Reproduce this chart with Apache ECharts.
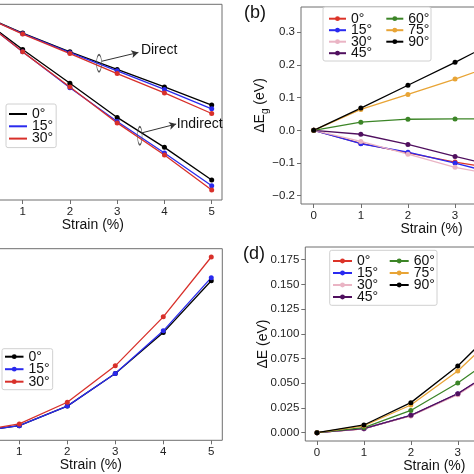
<!DOCTYPE html>
<html><head><meta charset="utf-8">
<script src="https://cdn.jsdelivr.net/npm/echarts@6/dist/echarts.min.js"></script>
<style>html,body{margin:0;padding:0;background:#fff}#c{width:474px;height:474px}</style>
</head><body><div id="c"></div>
<script>
// ---------- data ----------
const strain = [0, 1, 2, 3, 4, 5];
const xTicks = [0, 1, 2, 3, 4, 5];

// (a) band gaps (direct / indirect) for 0°, 15°, 30°
const anglesA = ['0°', '15°', '30°'];
const directA0  = [1.757, 1.653, 1.557, 1.467, 1.378, 1.285];
const directA15 = [1.757, 1.650, 1.553, 1.460, 1.365, 1.266];
const directA30 = [1.757, 1.648, 1.548, 1.446, 1.347, 1.242];
const indirectA0  = [1.749, 1.569, 1.397, 1.222, 1.069, 0.902];
const indirectA15 = [1.749, 1.557, 1.374, 1.201, 1.040, 0.873];
const indirectA30 = [1.749, 1.557, 1.377, 1.194, 1.030, 0.851];

// (b) ΔEg for 0..90°
const anglesB = ['0°', '15°', '30°', '45°', '60°', '75°', '90°'];
const dEgB0  = [0, -0.040, -0.069, -0.097, -0.121, -0.145];
const dEgB15 = [0, -0.041, -0.067, -0.100, -0.138, -0.170];
const dEgB30 = [0, -0.034, -0.073, -0.113, -0.140, -0.170];
const dEgB45 = [0, -0.012, -0.043, -0.080, -0.114, -0.150];
const dEgB60 = [0, 0.025, 0.034, 0.035, 0.035, 0.033];
const dEgB75 = [0, 0.064, 0.110, 0.157, 0.208, 0.260];
const dEgB90 = [0, 0.068, 0.138, 0.208, 0.282, 0.355];
const yTicksB = [-0.2, -0.1, 0.0, 0.1, 0.2, 0.3];

// (c)
const anglesC = ['0°', '15°', '30°'];
const valC0  = [0, 0.018, 0.074, 0.167, 0.284, 0.432];
const valC15 = [0, 0.018, 0.074, 0.167, 0.289, 0.441];
const valC30 = [0, 0.023, 0.085, 0.189, 0.329, 0.500];

// (d) ΔE for 0..90°
const anglesD = ['0°', '15°', '30°', '45°', '60°', '75°', '90°'];
const dED0  = [0, 0.0040, 0.0172, 0.0390, 0.0695, 0.105];
const dED15 = [0, 0.0041, 0.0174, 0.0392, 0.0698, 0.105];
const dED30 = [0, 0.0040, 0.0170, 0.0385, 0.0690, 0.104];
const dED45 = [0, 0.0042, 0.0176, 0.0395, 0.0700, 0.106];
const dED60 = [0, 0.0052, 0.0225, 0.0503, 0.0836, 0.128];
const dED75 = [0, 0.0070, 0.0280, 0.0624, 0.1070, 0.165];
const dED90 = [0, 0.0078, 0.0304, 0.0675, 0.1140, 0.175];
const yTicksD = [0, 0.025, 0.05, 0.075, 0.1, 0.125, 0.15, 0.175];

// annotation anchors in data coordinates of panel (a)
const annoDirect = { ellipse: [2.616, 1.499], from: [2.674, 1.509], to: [3.449, 1.554], text: 'Direct' };
const annoIndirect = { ellipse: [3.479, 1.128], from: [3.521, 1.143], to: [4.248, 1.188], text: 'Indirect' };

// ---------- styles ----------
const FONT = 'Liberation Sans, Arial, Helvetica, sans-serif';
const FRAME = '#6e6e6e';
const colA = ['#000000', '#2a2aee', '#d8302a'];
const colB = ['#dc3328', '#2a2af0', '#eab4c4', '#50105f', '#3c8527', '#e8a435', '#000000'];

const chart = echarts.init(document.getElementById('c'), null, { renderer: 'canvas' });

function pairs(arr) { return strain.map((s, i) => [s, arr[i]]); }
function line(name, idx, arr, color, extra) {
  return Object.assign({
    type: 'line', name: name, xAxisIndex: idx, yAxisIndex: idx,
    data: pairs(arr), symbol: 'circle', symbolSize: 5, showSymbol: true,
    itemStyle: { color: color }, lineStyle: { color: color, width: 1.3 },
    emphasis: { disabled: true }, animation: false
  }, extra || {});
}
function xAx(idx, min, max) {
  return {
    type: 'value', gridIndex: idx, min: min, max: max, position: 'bottom',
    name: 'Strain (%)', nameLocation: 'middle', nameGap: 18, nameMoveOverlap: false,
    nameTextStyle: { fontSize: 14, color: '#111', fontFamily: FONT },
    axisLine: { show: false, onZero: false }, splitLine: { show: false },
    axisTick: { show: true, length: 4, lineStyle: { color: FRAME }, customValues: xTicks },
    axisLabel: { fontSize: 11.5, color: '#222', fontFamily: FONT, margin: 6, customValues: xTicks,
      formatter: v => String(v) }
  };
}
const sub = { fontSize: 10, fontFamily: FONT, color: '#111', padding: [9, 0, 0, 0] };
const main = { fontSize: 14, fontFamily: FONT, color: '#111' };

const legendBase = {
  selectedMode: false, orient: 'vertical', z: 6,
  formatter: n => n.split(':')[1],
  textStyle: { fontSize: 14, color: '#111', fontFamily: FONT }
};
const boxed = { borderColor: '#d0d0d0', borderWidth: 1, borderRadius: 2, backgroundColor: '#fff' };

const option = {
  backgroundColor: '#fff',
  animation: false,
  title: [
    { text: '(b)', left: 244, top: 4, padding: 0, textStyle: { fontSize: 18, fontWeight: 'normal', color: '#111', fontFamily: FONT } },
    { text: '(d)', left: 243, top: 245, padding: 0, textStyle: { fontSize: 18, fontWeight: 'normal', color: '#111', fontFamily: FONT } }
  ],
  graphic: [
    { type: 'rect', z: 5, shape: { x: 323, y: 7, width: 108, height: 54, r: 2 }, style: { fill: '#fff', stroke: '#d0d0d0', lineWidth: 1 } },
    { type: 'rect', z: 5, shape: { x: 329.7, y: 250.3, width: 107.3, height: 55, r: 2 }, style: { fill: '#fff', stroke: '#d0d0d0', lineWidth: 1 } }
  ],
  grid: [
    { left: -36.4, top: 4.3, width: 258.4, height: 195.7, show: true, borderColor: FRAME, borderWidth: 1, backgroundColor: '#fff', outerBoundsMode: 'none' },
    { left: 301, top: 7, width: 261, height: 197, show: true, borderColor: FRAME, borderWidth: 1, backgroundColor: '#fff', outerBoundsMode: 'none' },
    { left: -40.7, top: 248.7, width: 263, height: 191.6, show: true, borderColor: FRAME, borderWidth: 1, backgroundColor: '#fff', outerBoundsMode: 'none' },
    { left: 305.3, top: 247, width: 258, height: 194, show: true, borderColor: FRAME, borderWidth: 1, backgroundColor: '#fff', outerBoundsMode: 'none' }
  ],
  xAxis: [xAx(0, -0.25, 5.218), xAx(1, -0.27, 5.27), xAx(2, -0.25, 5.23), xAx(3, -0.25, 5.25)],
  yAxis: [
    { type: 'value', gridIndex: 0, min: 0.8, max: 1.8, position: 'left', axisLine: { show: false, onZero: false }, axisTick: { show: false }, axisLabel: { show: false }, splitLine: { show: false } },
    { type: 'value', gridIndex: 1, min: -0.2254, max: 0.3774, position: 'left',
      name: '{m|ΔE}{s|g}{m| (eV)}', nameLocation: 'middle', nameGap: 31, nameRotate: 90, nameMoveOverlap: false,
      nameTextStyle: { rich: { m: main, s: sub } },
      axisLine: { show: false, onZero: false }, splitLine: { show: false },
      axisTick: { show: true, length: 4, lineStyle: { color: FRAME }, customValues: yTicksB },
      axisLabel: { fontSize: 11.5, color: '#222', fontFamily: FONT, margin: 6, customValues: yTicksB,
        formatter: v => (v < -1e-9 ? '\u2212' : '') + Math.abs(v).toFixed(1) } },
    { type: 'value', gridIndex: 2, min: -0.0237, max: 0.5237, position: 'left', axisLine: { show: false, onZero: false }, axisTick: { show: false }, axisLabel: { show: false }, splitLine: { show: false } },
    { type: 'value', gridIndex: 3, min: -0.0084, max: 0.1878, position: 'left',
      name: 'ΔE (eV)', nameLocation: 'middle', nameGap: 35, nameRotate: 90, nameMoveOverlap: false,
      nameTextStyle: main,
      axisLine: { show: false, onZero: false }, splitLine: { show: false },
      axisTick: { show: true, length: 4, lineStyle: { color: FRAME }, customValues: yTicksD },
      axisLabel: { fontSize: 11.5, color: '#222', fontFamily: FONT, margin: 6, customValues: yTicksD,
        formatter: v => v.toFixed(3) } }
  ],
  legend: [
    Object.assign({}, legendBase, boxed, {
      data: anglesA.map(a => 'a:' + a), left: 6, top: 104, padding: [3, 3, 2, 3], itemGap: -1.7,
      icon: 'rect', itemWidth: 18, itemHeight: 2
    }),
    Object.assign({}, legendBase, {
      data: anglesB.slice(0, 4).map(a => 'b:' + a), left: 328, top: 11.7, padding: 0, itemGap: -2.5,
      itemWidth: 17, itemHeight: 6
    }),
    Object.assign({}, legendBase, {
      data: anglesB.slice(4).map(a => 'b:' + a), left: 385.3, top: 11.7, padding: 0, itemGap: -2.5,
      itemWidth: 17, itemHeight: 6
    }),
    Object.assign({}, legendBase, boxed, {
      data: anglesC.map(a => 'c:' + a), left: 2, top: 348.7, padding: [1, 3, 1, 2], itemGap: -1.5,
      itemWidth: 18.5, itemHeight: 6
    }),
    Object.assign({}, legendBase, {
      data: anglesD.slice(0, 4).map(a => 'd:' + a), left: 332, top: 254, padding: 0, itemGap: -2,
      itemWidth: 19, itemHeight: 6
    }),
    Object.assign({}, legendBase, {
      data: anglesD.slice(4).map(a => 'd:' + a), left: 388.7, top: 254, padding: 0, itemGap: -2,
      itemWidth: 19, itemHeight: 6
    })
  ],
  series: []
};

// (a)
const annoLine = {
  silent: true, symbol: ['none', 'arrow'], symbolSize: [6, 7],
  lineStyle: { color: '#333', width: 1, type: 'solid' }, label: { show: false }, emphasis: { disabled: true },
  data: [
    [{ coord: annoDirect.from }, { coord: annoDirect.to }],
    [{ coord: annoIndirect.from }, { coord: annoIndirect.to }]
  ]
};
const ell = { color: 'rgba(0,0,0,0)', borderColor: '#555', borderWidth: 1 };
const annoPts = {
  silent: true, emphasis: { disabled: true },
  data: [
    { coord: annoDirect.ellipse, symbol: 'circle', symbolSize: [5, 17], itemStyle: ell, label: { show: false } },
    { coord: annoIndirect.ellipse, symbol: 'circle', symbolSize: [4.5, 18], itemStyle: ell, label: { show: false } },
    { coord: annoDirect.to, symbol: 'circle', symbolSize: 1, itemStyle: { color: 'rgba(0,0,0,0)' },
      label: { show: true, position: 'right', distance: 2, offset: [0, -2], formatter: annoDirect.text, color: '#111', fontSize: 14, fontFamily: FONT } },
    { coord: annoIndirect.to, symbol: 'circle', symbolSize: 1, itemStyle: { color: 'rgba(0,0,0,0)' },
      label: { show: true, position: 'right', distance: 0, offset: [0, 0], formatter: annoIndirect.text, color: '#111', fontSize: 14, fontFamily: FONT } }
  ]
};
const dirA = [directA0, directA15, directA30];
const indA = [indirectA0, indirectA15, indirectA30];
anglesA.forEach((a, i) => {
  option.series.push(line('a:' + a, 0, dirA[i], colA[i]));
  option.series.push(line('ai:' + a, 0, indA[i], colA[i]));
});
option.series[0].markLine = annoLine;
option.series[0].markPoint = annoPts;

// (b)
const valsB = [dEgB0, dEgB15, dEgB30, dEgB45, dEgB60, dEgB75, dEgB90];
anglesB.forEach((a, i) => option.series.push(line('b:' + a, 1, valsB[i], colB[i])));

// (c)
const valsC = [valC0, valC15, valC30];
anglesC.forEach((a, i) => option.series.push(line('c:' + a, 2, valsC[i], colA[i])));

// (d)
const valsD = [dED0, dED15, dED30, dED45, dED60, dED75, dED90];
anglesD.forEach((a, i) => option.series.push(line('d:' + a, 3, valsD[i], colB[i])));

chart.setOption(option);
</script>
</body></html>
